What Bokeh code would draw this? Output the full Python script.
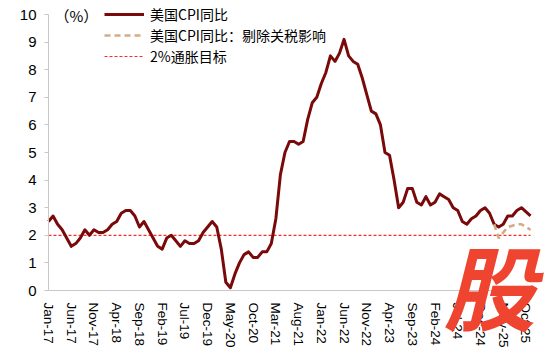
import math
from bokeh.plotting import figure
from bokeh.models import Label, Legend, LegendItem, FixedTicker, Range1d, Grid
from bokeh.embed import file_html
from bokeh.resources import INLINE

# ---------------- data ----------------
years = list(range(2017, 2026))
month_names = ["Jan", "Feb", "Mar", "Apr", "May", "Jun",
               "Jul", "Aug", "Sep", "Oct", "Nov", "Dec"]
months = [f"{m}-{str(y)[2:]}" for y in years for m in month_names][:107]  # Jan-17 .. Nov-25

# US CPI YoY (%), None = no observation
cpi = [
    2.5, 2.7, 2.4, 2.2, 1.9, 1.6, 1.7, 1.9, 2.2, 2.0, 2.2, 2.1,   # 2017
    2.1, 2.2, 2.4, 2.5, 2.8, 2.9, 2.9, 2.7, 2.3, 2.5, 2.2, 1.9,   # 2018
    1.6, 1.5, 1.9, 2.0, 1.8, 1.6, 1.8, 1.7, 1.7, 1.8, 2.1, 2.3,   # 2019
    2.5, 2.3, 1.5, 0.3, 0.1, 0.6, 1.0, 1.3, 1.4, 1.2, 1.2, 1.4,   # 2020
    1.4, 1.7, 2.6, 4.2, 5.0, 5.4, 5.4, 5.3, 5.4, 6.2, 6.8, 7.0,   # 2021
    7.5, 7.9, 8.5, 8.3, 8.6, 9.1, 8.5, 8.3, 8.2, 7.7, 7.1, 6.5,   # 2022
    6.4, 6.0, 5.0, 4.9, 4.0, 3.0, 3.2, 3.7, 3.7, 3.2, 3.1, 3.4,   # 2023
    3.1, 3.2, 3.5, 3.4, 3.3, 3.0, 2.9, 2.5, 2.4, 2.6, 2.7, 2.9,   # 2024
    3.0, 2.8, 2.4, 2.3, 2.4, 2.7, 2.7, 2.9, 3.0, None, 2.7,       # 2025
]

ex_tariff_months = ["Mar-25", "Apr-25", "May-25", "Jun-25", "Jul-25", "Aug-25", "Sep-25", "Nov-25"]
ex_tariff = [2.4, 1.9, 2.1, 2.3, 2.35, 2.4, 2.4, 2.2]

target = 2.0
y_ticks = list(range(0, 11))
x_tick_step = 5

legend_labels = ["美国CPI同比", "美国CPI同比：剔除关税影响", "2%通胀目标"]
unit_label = "（%）"
watermark = "股"

# ---------------- layout (pixels) ----------------
W, H = 550, 351
AXIS_TOP_PX, AXIS_BOTTOM_PX = 14, 290        # canvas rows of y=10 and y=0
AXIS_LEFT_PX, AXIS_RIGHT_PX = 48, 530        # canvas columns of first and last month
n_last = len(months) - 1
y_lo, y_hi = y_ticks[0], y_ticks[-1]
py = (AXIS_BOTTOM_PX - AXIS_TOP_PX) / (y_hi - y_lo)
px = (AXIS_RIGHT_PX - AXIS_LEFT_PX) / n_last
y_start, y_end = y_lo - (H - AXIS_BOTTOM_PX) / py, y_hi + AXIS_TOP_PX / py
x_start, x_end = -AXIS_LEFT_PX / px, n_last + (W - AXIS_RIGHT_PX) / px

# ---------------- figure ----------------
idx = {m: i for i, m in enumerate(months)}
cpi_x = [i for i, v in enumerate(cpi) if v is not None]
cpi_y = [v for v in cpi if v is not None]
ex_x = [idx[m] for m in ex_tariff_months]

p = figure(width=W, height=H, output_backend="svg", toolbar_location=None,
           x_range=Range1d(x_start, x_end), y_range=Range1d(y_start, y_end),
           min_border_left=0, min_border_right=0, min_border_top=0, min_border_bottom=0)
p.outline_line_color = None
p.center = [r for r in p.center if not isinstance(r, Grid)]
p.background_fill_color = "white"

LATIN = "Liberation Sans"
CJK = "Noto Sans CJK SC"

ya = p.yaxis[0]
ya.fixed_location = 0
ya.ticker = FixedTicker(ticks=y_ticks)
ya.bounds = (y_lo, y_hi)
ya.axis_line_color = "#c8c8c8"
ya.major_tick_line_color = "#c8c8c8"
ya.major_tick_out = 4
ya.major_tick_in = 0
ya.minor_tick_line_color = None
ya.major_label_text_font = LATIN
ya.major_label_text_font_size = "15px"
ya.major_label_text_color = "black"
ya.major_label_standoff = 8

xa = p.xaxis[0]
xa.fixed_location = y_lo
xa.bounds = (0, n_last)
xa.ticker = FixedTicker(ticks=list(range(0, len(months), x_tick_step)))
xa.major_label_overrides = {i: months[i] for i in range(0, len(months), x_tick_step)}
xa.major_label_orientation = "vertical"
xa.axis_line_color = "#c8c8c8"
xa.major_tick_line_color = None
xa.minor_tick_line_color = None
xa.major_label_text_font = LATIN
xa.major_label_text_font_size = "13.5px"
xa.major_label_text_color = "black"
xa.major_label_standoff = 6

r_target = p.line(x=[0, n_last], y=[target, target],
                  line_color="#ff2b2b", line_width=1.2, line_dash="3 2")
r_cpi = p.line(x=cpi_x, y=cpi_y, line_color="#7a0a0a", line_width=3, line_join="round")
r_ex = p.line(x=ex_x, y=ex_tariff, line_color="#d6aa85", line_width=2.6, line_dash="6 4")

legend = Legend(items=[
    LegendItem(label=legend_labels[0], renderers=[r_cpi]),
    LegendItem(label=legend_labels[1], renderers=[r_ex]),
    LegendItem(label=legend_labels[2], renderers=[r_target]),
], location=(104, 285))
legend.border_line_color = None
legend.background_fill_alpha = 0
legend.label_text_font = CJK
legend.label_text_font_size = "14px"
legend.label_text_color = "black"
legend.glyph_width = 40
legend.glyph_height = 16
legend.label_height = 16
legend.spacing = 1
legend.padding = 0
legend.margin = 0
legend.label_standoff = 6
p.add_layout(legend)

p.add_layout(Label(x=54, y=336, x_units="screen", y_units="screen", text=unit_label,
                   text_font=CJK, text_font_size="15px", text_color="black",
                   text_baseline="middle"))

p.add_layout(Label(x=489, y=2, x_units="screen", y_units="screen", text=watermark,
                   text_font=CJK, text_font_size="92px", text_font_style="bold italic",
                   text_color="#ee4430", text_align="center", text_baseline="bottom"))

open("out.html", "w").write(file_html(p, INLINE))
